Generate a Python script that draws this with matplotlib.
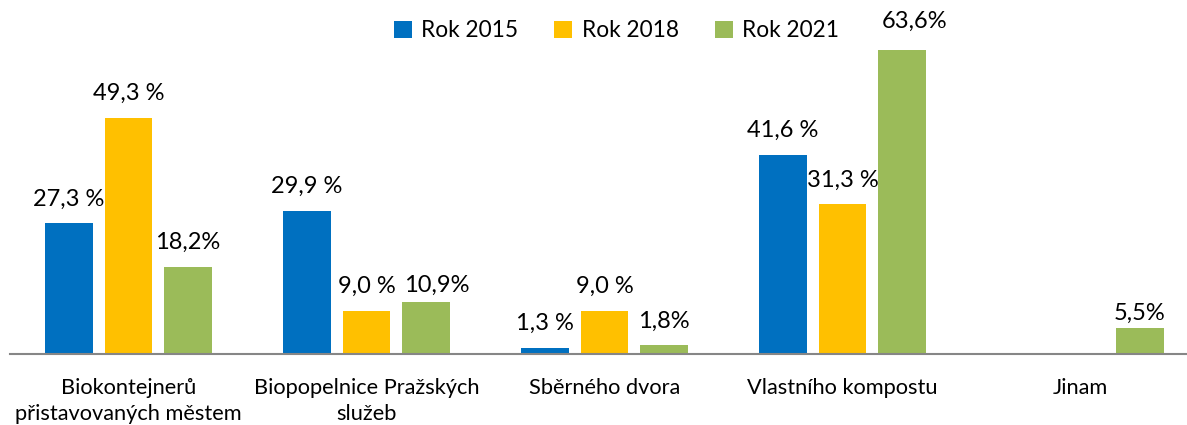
import matplotlib
matplotlib.use("Agg")
import matplotlib.pyplot as plt
import numpy as np

plt.rcParams['font.family'] = ['Lato', 'DejaVu Sans']

categories = ["Biokontejnerů\npřistavovaných městem", "Biopopelnice Pražských\nslužeb",
              "Sběrného dvora", "Vlastního kompostu", "Jinam"]
series_names = ["Rok 2015", "Rok 2018", "Rok 2021"]
rok_2015 = [27.3, 29.9, 1.3, 41.6, None]
rok_2018 = [49.3, 9.0, 9.0, 31.3, None]
rok_2021 = [18.2, 10.9, 1.8, 63.6, 5.5]
labels_2015 = ["27,3 %", "29,9 %", "1,3 %", "41,6 %", None]
labels_2018 = ["49,3 %", "9,0 %", "9,0 %", "31,3 %", None]
labels_2021 = ["18,2%", "10,9%", "1,8%", "63,6%", "5,5%"]

colors = ["#0070C0", "#FFC000", "#9BBB59"]
# manual label nudges (points), like in the original sheet
nudges = {(2, 1): (8, -6), (2, 3): (9, 3), (2, 4): (0, -7)}

fig = plt.figure(figsize=(11.87, 4.25), dpi=100)
ax = fig.add_axes([9.5 / 1187, 0.167, 1190 / 1187, 0.833])

x = np.arange(len(categories))
width = 0.2
offsets = [-0.25, 0.0, 0.25]
all_series = [rok_2015, rok_2018, rok_2021]
all_labels = [labels_2015, labels_2018, labels_2021]

for s, (vals, labs) in enumerate(zip(all_series, all_labels)):
    for i, v in enumerate(vals):
        if v is None:
            continue
        ax.bar(x[i] + offsets[s], v, width, color=colors[s],
               label=series_names[s] if i == 0 else None)
        dx, dy = nudges.get((s, i), (0, 0))
        ax.annotate(labs[i], (x[i] + offsets[s], v), xytext=(dx, 10 + dy),
                    textcoords="offset points", ha="center", va="bottom",
                    fontsize=17, color="#000000")

ax.set_xlim(-0.5, len(categories) - 0.5)
ax.set_ylim(0, 74)
ax.set_yticks([])
ax.set_xticks(x)
ax.set_xticklabels(categories, fontsize=15.7, linespacing=1.4)
ax.tick_params(axis="x", length=0, pad=17)
for sp in ["top", "right", "left"]:
    ax.spines[sp].set_visible(False)
ax.spines["bottom"].set_color("#868686")
ax.spines["bottom"].set_linewidth(1.5)

ax.legend(loc="upper center", bbox_to_anchor=(0.51, 1.0), ncol=3, frameon=False,
          fontsize=16.3, handlelength=0.8, handleheight=0.8, handletextpad=0.4,
          columnspacing=1.6)

fig.savefig("out.png", dpi=100)
